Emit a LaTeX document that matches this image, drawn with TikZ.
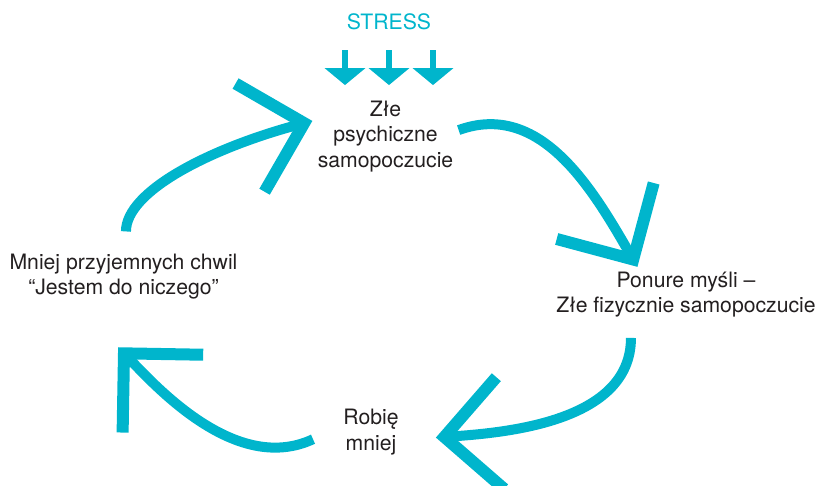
\documentclass[tikz,border=0pt]{standalone}
\usepackage{fontspec}
\setmainfont{TeX Gyre Heros}
\usetikzlibrary{arrows.meta}
\definecolor{loopcyan}{RGB}{0,181,204}
\definecolor{textgray}{RGB}{35,31,32}

\begin{document}
\begin{tikzpicture}[x=0.5pt,y=0.5pt,
    text node/.style={align=center,inner sep=2.5pt,text=textgray,
      font=\fontsize{10.6pt}{12.6pt}\selectfont},
    cycle arrow/.style={draw=loopcyan,line width=5pt,
      -{Straight Barb[sharp,length=28pt,width=56pt,line width=6pt]}},
    stress arrow/.style={draw=loopcyan,fill=loopcyan,line width=3pt,
      -{Triangle[length=8.5pt,width=20pt]}}]
  \useasboundingbox (0,0) rectangle (820,-486);

  % anchor=base sits on the last line
  \node[text node,anchor=base,text=loopcyan] (stress) at (389,-29.3) {STRESS};
  \node[text node,anchor=base] (psych) at (385.5,-167.1) {Złe\\psychiczne\\samopoczucie};
  \node[text node,anchor=base] (ponure) at (686,-312.9) {Ponure myśli --\\Złe fizycznie samopoczucie};
  \node[text node,anchor=base] (robie) at (371,-450.2) {Robię\\mniej};
  \node[text node,anchor=base] (mniej) at (123.5,-294.5) {Mniej przyjemnych chwil\\``Jestem do niczego''};

  % stress pushing down on the first box
  \foreach \dx in {-22pt,0pt,22pt}
    \draw[stress arrow] ([xshift=\dx,yshift=-7.5pt]stress.south) -- ++(0,-35);

  \path[every edge/.style={cycle arrow}]
    (mniej.85) edge[out=90,in=195,out looseness=0.65,in looseness=1.2,shorten <=8.5pt] (psych.168)
    (psych.5) edge[out=20,in=120] (ponure.150)
    (ponure.207) edge[out=-90,in=4,shorten <=7.5pt,shorten >=16pt] (robie.347)
    (robie.172) edge[out=205,in=-46,shorten <=13.8pt,shorten >=29.7pt] (mniej.211);
\end{tikzpicture}
\end{document}
